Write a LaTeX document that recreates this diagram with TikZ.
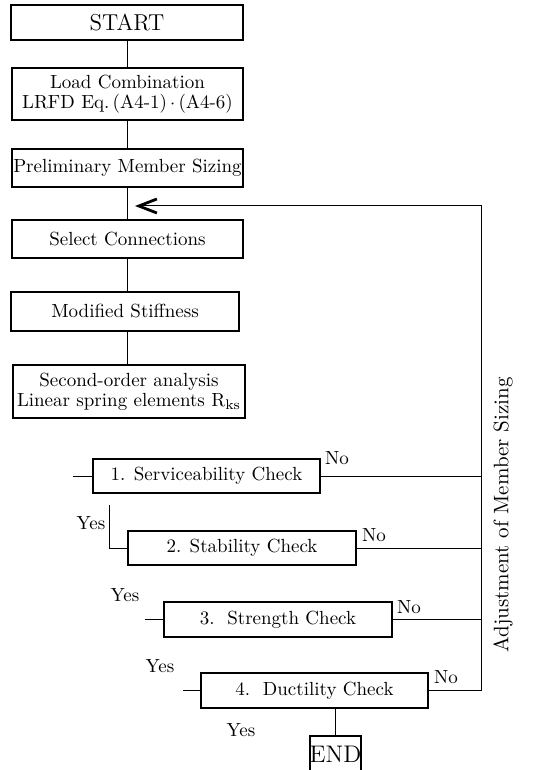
\documentclass[tikz,border=0pt]{standalone}
\usepackage{tikz}
\usetikzlibrary{arrows.meta}

\tikzset{
    box/.style={draw, line width=0.8pt, inner sep=0pt, align=center, font=\fontsize{9.5}{10}\selectfont},
    conn/.style={line width=0.5pt},
    lbl/.style={inner sep=0pt, font=\fontsize{9.5}{10}\selectfont},
}

\begin{document}
\begin{tikzpicture}[x=0.5pt,y=-0.5pt]
    \useasboundingbox (0,0) rectangle (550,770);

    \node[box, minimum width=116pt, minimum height=17.5pt, font=\fontsize{11.5}{12}\selectfont] (start) at (127,22.5) {START};
    \node[box, minimum width=115.5pt, minimum height=26pt] (load) at (127.5,94) {Load Combination\\LRFD Eq.\,(A4-1)\,$\cdot$\,(A4-6)};
    \node[box, minimum width=115.5pt, minimum height=19pt] (prelim) at (127.5,168) {Preliminary Member Sizing};
    \node[box, minimum width=115.5pt, minimum height=19pt] (select) at (127.5,239) {Select Connections};
    \node[box, minimum width=114pt, minimum height=19.5pt] (modif) at (125,311.5) {Modified Stiffness};
    \node[box, minimum width=116pt, minimum height=26.5pt] (second) at (129,391.5) {Second-order analysis\\Linear spring elements R$_{\mathrm{ks}}$};

    \node[box, minimum width=113.5pt, minimum height=17pt] (serv) at (206.5,476) {1. Serviceability Check};
    \node[box, minimum width=114pt, minimum height=17pt] (stab) at (242,548) {2. Stability Check};
    \node[box, minimum width=114pt, minimum height=17.5pt] (strength) at (278,619.5) {3.~~Strength Check};
    \node[box, minimum width=113.5pt, minimum height=17.5pt] (duct) at (314.5,690.5) {4.~~Ductility Check};
    \node[box, minimum width=25.5pt, minimum height=18pt, font=\fontsize{12}{12}\selectfont] (end) at (335.5,754) {END};

    % main column
    \draw[conn] (start.south) -- (start.south |- load.north);
    \draw[conn] (start.south |- load.south) -- (start.south |- prelim.north);
    \draw[conn] (start.south |- prelim.south) -- (start.south |- select.north);
    \draw[conn] (start.south |- select.south) -- (start.south |- modif.north);
    \draw[conn] (start.south |- modif.south) -- (start.south |- second.north);

    % loop back
    \coordinate (fb) at (481,206);
    \coordinate (fbend) at (135,206);
    \draw[conn, -{Straight Barb[length=9pt,width=7pt,line width=1.4pt]}] (duct.east) -| (fb) -- (fbend);
    \draw[conn] (serv.east) -- (serv.east -| fb);
    \draw[conn] (stab.east) -- (stab.east -| fb);
    \draw[conn] (strength.east) -- (strength.east -| fb);

    % inputs of the checks
    \coordinate (in1) at (73,476);
    \coordinate (in2) at (109,505);
    \coordinate (in3) at (145,619.5);
    \coordinate (in4) at (183,690.5);
    \draw[conn] (in1) -- (serv.west);
    \draw[conn] (in2) |- (stab.west);
    \draw[conn] (in3) -- (strength.west);
    \draw[conn] (in4) -- (duct.west);
    \draw[conn] (duct.south -| end.north) -- (end.north);

    \node[lbl] (no1) at (337,458) {No};
    \node[lbl] (no2) at (374,535) {No};
    \node[lbl] (no3) at (409,607) {No};
    \node[lbl] (no4) at (446,677) {No};
    \node[lbl] (yes1) at (91,523) {Yes};
    \node[lbl] (yes2) at (125,595) {Yes};
    \node[lbl] (yes3) at (160,666) {Yes};
    \node[lbl] (yes4) at (241,730) {Yes};

    \node[lbl, rotate=90, font=\fontsize{10.5}{11}\selectfont] (adj) at (503,515) {Adjustment of Member Sizing};
\end{tikzpicture}
\end{document}
